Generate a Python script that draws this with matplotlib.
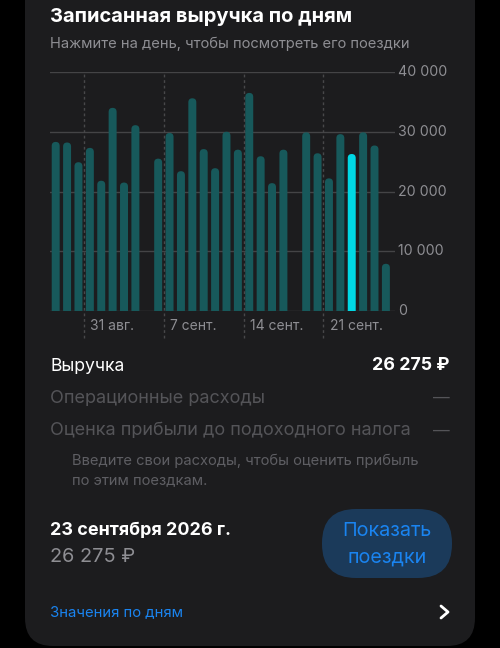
import matplotlib
matplotlib.use("Agg")
import matplotlib.pyplot as plt
from matplotlib.patches import FancyBboxPatch

plt.rcParams['font.family'] = ['Inter', 'DejaVu Sans']

# ---- data ----
day_labels = ["28 авг.", "29 авг.", "30 авг.", "31 авг."] + [f"{d} сент." for d in range(1, 27)]
revenue = [28300, 28200, 24900, 27300, 21800, 34000, 21500, 31100, 0, 25500,
           29800, 23400, 35600, 27100, 23900, 30000, 27000, 36500, 25900, 21400,
           27000, 0, 29900, 26400, 22200, 29600, 26275, 29900, 27700, 7900]
selected_index = 26
week_tick_index = [3, 10, 17, 24]
week_tick_labels = ["31 авг.", "7 сент.", "14 сент.", "21 сент."]
y_ticks = [0, 10000, 20000, 30000, 40000]
y_tick_labels = ["0", "10 000", "20 000", "30 000", "40 000"]

title = "Записанная выручка по дням"
subtitle = "Нажмите на день, чтобы посмотреть его поездки"

W, H = 500, 648
fig = plt.figure(figsize=(W / 100, H / 100), dpi=100)
fig.patch.set_facecolor('black')

bg = fig.add_axes([0, 0, 1, 1])
bg.set_xlim(0, W)
bg.set_ylim(H, 0)
bg.axis('off')

CARD = '#1c1c1e'
card = FancyBboxPatch((25, -40), 450, 686, boxstyle="round,pad=0,rounding_size=28",
                      fc=CARD, ec='none')
bg.add_patch(card)

WHITE = '#ffffff'
GRAY = '#8e8e93'
DIM = '#545458'
BLUE = '#1a84f0'

bg.text(50, 17, title, color=WHITE, fontsize=14.5, fontweight='bold', va='center', ha='left')
bg.text(50, 44, subtitle, color=GRAY, fontsize=10.6, va='center', ha='left')

bg.text(50, 366, "Выручка", color=WHITE, fontsize=12.6, va='center', ha='left')
bg.text(450, 366, f"{revenue[selected_index]:,} ₽".replace(",", " "), color=WHITE,
        fontsize=12.8, fontweight='bold', va='center', ha='right')
bg.text(50, 398, "Операционные расходы", color=DIM, fontsize=13, va='center', ha='left')
bg.text(450, 398, "—", color=DIM, fontsize=12, va='center', ha='right')
bg.text(50, 431, "Оценка прибыли до подоходного налога", color=DIM, fontsize=13,
        va='center', ha='left')
bg.text(450, 431, "—", color=DIM, fontsize=12, va='center', ha='right')
bg.text(72, 461, "Введите свои расходы, чтобы оценить прибыль", color='#5e5e63',
        fontsize=10.6, va='center', ha='left')
bg.text(72, 480, "по этим поездкам.", color='#5e5e63', fontsize=10.6, va='center', ha='left')

bg.text(50, 530, "23 сентября 2026 г.", color=WHITE, fontsize=12.9, fontweight='bold',
        va='center', ha='left')
bg.text(50, 557, f"{revenue[selected_index]:,} ₽".replace(",", " "), color=GRAY,
        fontsize=14.3, va='center', ha='left')

btn = FancyBboxPatch((322, 509), 130, 69, boxstyle="round,pad=0,rounding_size=34",
                     fc='#1b3a5a', ec='none')
bg.add_patch(btn)
bg.text(387, 531, "Показать", color=BLUE, fontsize=14.2, va='center', ha='center')
bg.text(387, 558, "поездки", color=BLUE, fontsize=14.2, va='center', ha='center')

bg.text(50, 612, "Значения по дням", color=BLUE, fontsize=10.7, va='center', ha='left')
bg.plot([441, 448, 441], [606, 612, 618], color=WHITE, lw=2, solid_capstyle='round',
        solid_joinstyle='round')

# ---- chart ----
left, right, top, bottom = 50, 395, 72, 311
ax = fig.add_axes([left / W, 1 - bottom / H, (right - left) / W, (bottom - top) / H])
ax.set_facecolor('none')
xmin, xmax, ymax = -0.5, 29.8, 40000
ax.set_xlim(xmin, xmax)
ax.set_ylim(0, ymax)
for s in ax.spines.values():
    s.set_visible(False)
ax.set_xticks([])
ax.set_yticks([])

for yv in y_ticks:
    ax.axhline(yv, color='#444446', lw=1, zorder=1)
for yv, lab in zip(y_ticks, y_tick_labels):
    ax.annotate(lab, xy=(1, yv), xycoords=('axes fraction', 'data'),
                xytext=(2, 0), textcoords='offset points', color=GRAY,
                fontsize=10.2, va='center', ha='left', annotation_clip=False)

axes_h = bottom - top
for idx, lab in zip(week_tick_index, week_tick_labels):
    ax.axvline(idx - 0.5, ymin=-27 / axes_h, ymax=1, color='#48484a', lw=1,
               ls=(0, (2, 2)), clip_on=False, zorder=1)
    ax.annotate(lab, xy=(idx - 0.5, 0), xycoords='data', xytext=(4.5, -10.5),
                textcoords='offset points', color=GRAY, fontsize=10,
                va='center', ha='left', annotation_clip=False)

# bars with rounded tops (rounded patch starting below the baseline, clipped by axes)
colors = ['#00d8e4' if i == selected_index else '#17595b' for i in range(len(revenue))]
bars = ax.bar(range(len(revenue)), revenue, width=0.7, color=colors, zorder=2)
px_x = (xmax - xmin) / (right - left)   # data units per pixel, x
px_y = ymax / axes_h                    # data units per pixel, y
r_px = 4.0
for b, c in zip(bars, colors):
    h = b.get_height()
    if h <= 0:
        b.set_visible(False)
        continue
    b.set_visible(False)
    p = FancyBboxPatch((b.get_x(), -r_px * px_y), b.get_width(), h + r_px * px_y,
                       boxstyle=f"round,pad=0,rounding_size={r_px * px_x}",
                       mutation_aspect=px_y / px_x, fc=c, ec='none', zorder=2)
    ax.add_patch(p)

fig.savefig('out.png', dpi=100, facecolor=fig.get_facecolor())
